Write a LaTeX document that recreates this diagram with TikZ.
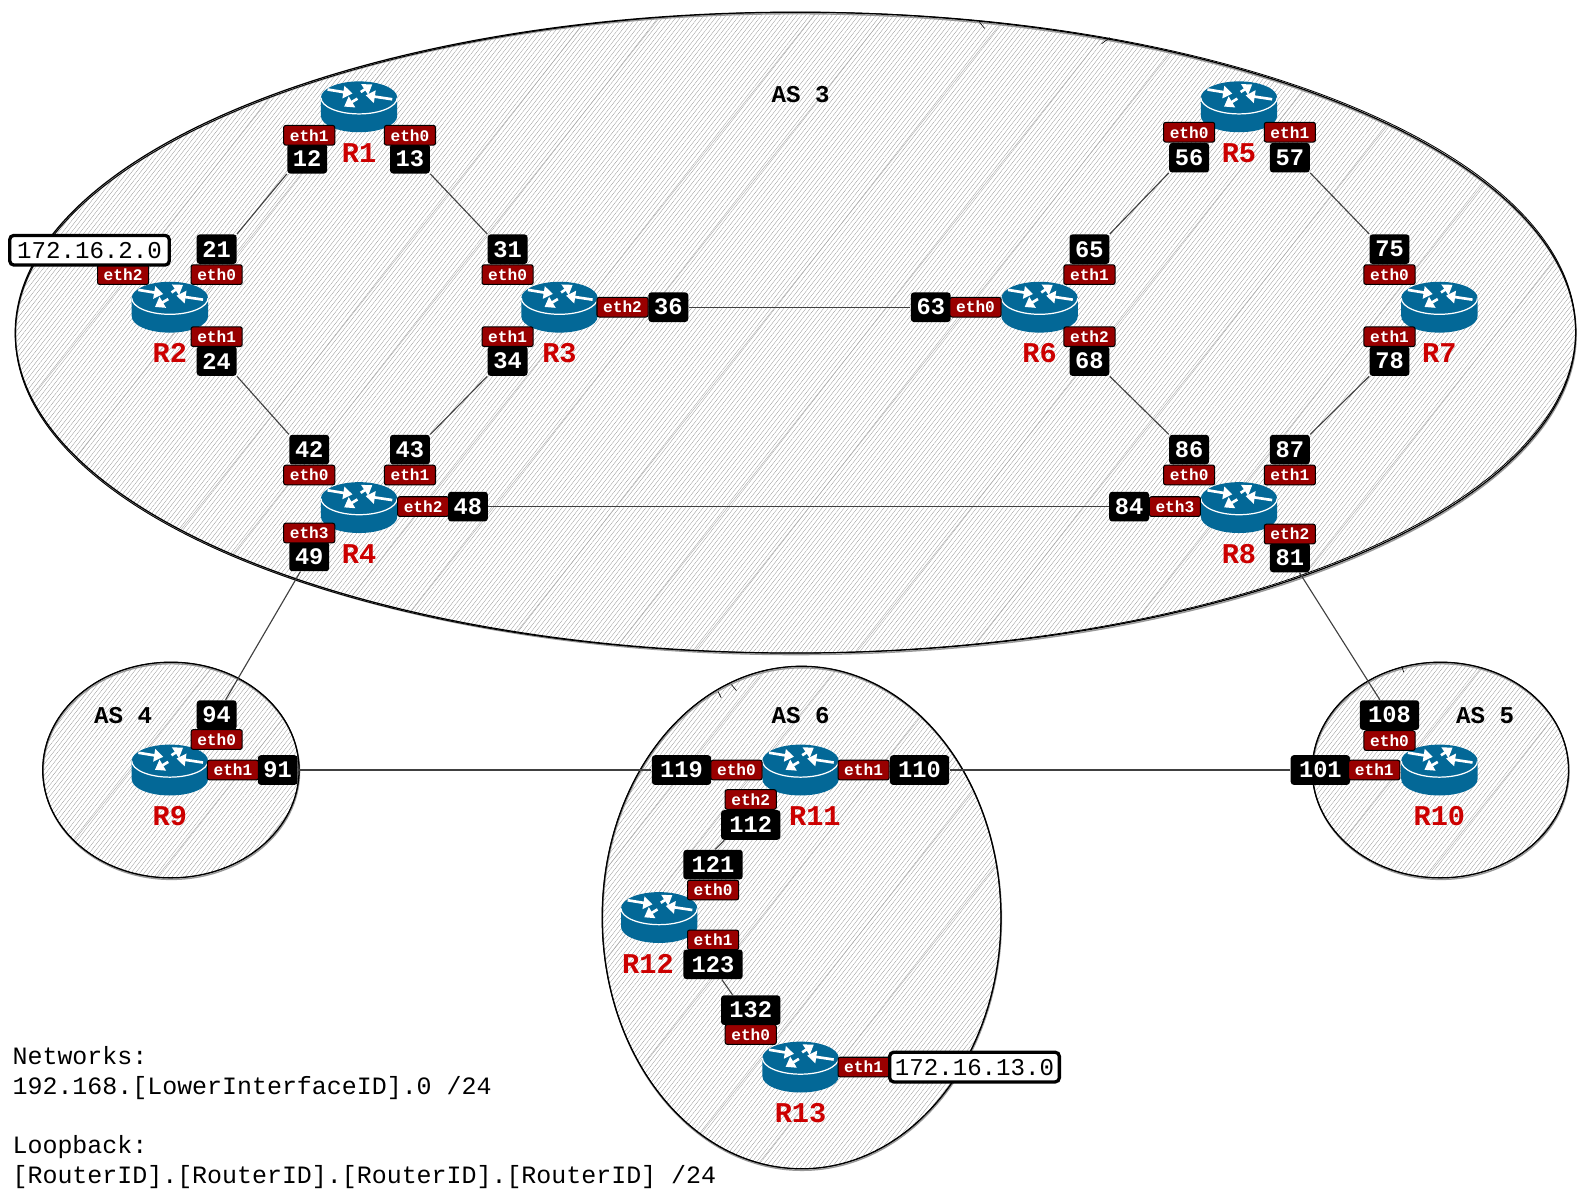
\documentclass[tikz,border=0pt]{standalone}
\usepackage{fontspec}
\setmainfont{Liberation Mono}
\usetikzlibrary{arrows.meta}
\usetikzlibrary{patterns.meta}
\definecolor{routerblue}{HTML}{036897}
\definecolor{ethred}{HTML}{990000}
\definecolor{namered}{HTML}{CC0000}
\newcommand{\routericon}{%
  \begin{scope}[shift={(path picture bounding box.center)}]
    \fill[routerblue] (-37.5,-9) -- (-37.5,9) arc [start angle=180, end angle=0, x radius=37.5, y radius=16] -- (37.5,-9) arc [start angle=0, end angle=-180, x radius=37.5, y radius=16] -- cycle;
    \draw[white, line width=.6pt] (-37.5,-9) arc [start angle=180, end angle=0, x radius=37.5, y radius=16];
    \draw[arrowline] (-31,-17) -- (-6.5,-13);
    \draw[arrowline] (1.6,-14.5) -- (13,-22);
    \draw[arrowline] (32.6,-7.4) -- (6.5,-11.3);
    \draw[arrowline] (-1.6,-8) -- (-14.7,-.2);
  \end{scope}}
\tikzset{
  arrowline/.style={white, line width=1.3pt, -{Triangle[length=4.5pt, width=6pt]}},
  router/.style={inner sep=0pt, minimum width=37.5pt, minimum height=25pt, path picture={\routericon}},
  rname/.style={inner sep=0pt, text=namered, font=\fontsize{14}{14}\selectfont\bfseries},
  eth/.style={draw=black, fill=ethred, text=white, rounded corners=1pt, line width=.5pt, inner sep=0pt, minimum width=25pt, minimum height=9.6pt, font=\fontsize{7.9}{8}\selectfont\bfseries},
  num/.style={fill=black, text=white, rounded corners=1.5pt, inner sep=0pt, minimum width=19.5pt, minimum height=14.5pt, font=\fontsize{11.6}{12}\selectfont\bfseries},
  wide/.style={num, minimum width=29pt},
  ipbox/.style={draw=black, fill=white, rounded corners=2pt, line width=1.6pt, inner sep=0pt, minimum height=14.5pt, font=\fontsize{11.8}{12}\selectfont},
  astext/.style={inner sep=0pt, font=\fontsize{11.8}{12}\selectfont\bfseries},
  hatch/.style={pattern={Lines[angle=52, distance=1.7pt, line width=.11pt]}, pattern color=black!50},
  link/.style={black!75, line width=.55pt},
}
\begin{document}
\begin{tikzpicture}[x=.4975pt, y=-.4975pt]
  \useasboundingbox (0,0) rectangle (1568,1173);

  % autonomous systems
  \foreach \cx/\cy/\rx/\ry in {782/327/767/315, 168/757/126/106, 1416/757/126/106, 788/902/196/247} {
    \fill[hatch] (\cx,\cy) ellipse [x radius=\rx, y radius=\ry];
    \begin{scope}
      \clip (\cx,\cy) ellipse [x radius=\rx, y radius=\ry];
      \foreach \o in {-700,-610,-450,-380,-230,-160,-40,70,150,310,420,560,690}
        \draw[black!35, line width=.18pt] (\cx+\o-700,\cy+880) -- (\cx+\o+700,\cy-880);
    \end{scope}
    \draw[black!40, line width=.7pt] (\cx+.5,\cy+1.5) ellipse [x radius=\rx, y radius=\ry];
    \draw[black, line width=.4pt] (\cx,\cy) ellipse [x radius=\rx, y radius=\ry, rotate=.2];
    \draw[black, line width=.6pt] (\cx,\cy) ellipse [x radius=\rx, y radius=\ry];
  }
  % stray pen strokes on the outlines
  \draw[line width=.3pt] (963,22) -- (968,28);
  \draw[line width=.3pt] (1083,43) -- (1091,37);
  \draw[line width=.3pt] (706,680) -- (709,686);
  \draw[line width=.3pt] (719,673) -- (724,679);
  \draw[line width=.3pt] (1378,655) -- (1380,661);

  \node[astext] (as3) at (787,93) {AS 3};
  \node[astext] (as4) at (121,703) {AS 4};
  \node[astext] (as5) at (1460,703) {AS 5};
  \node[astext] (as6) at (787,703) {AS 6};

  % routers
  \node[router, label={[rname, label distance=5pt]below:R1}] (r1) at (353,105) {};
  \node[router, label={[rname, label distance=5pt]below:R2}] (r2) at (167,302) {};
  \node[router, label={[rname, label distance=5pt]below:R3}] (r3) at (550,302) {};
  \node[router, label={[rname, label distance=5pt]below:R4}] (r4) at (353,499) {};
  \node[router, label={[rname, label distance=5pt]below:R5}] (r5) at (1218,105) {};
  \node[router, label={[rname, label distance=5pt]below:R6}] (r6) at (1022,302) {};
  \node[router, label={[rname, label distance=5pt]below:R7}] (r7) at (1415,302) {};
  \node[router, label={[rname, label distance=5pt]below:R8}] (r8) at (1218,499) {};
  \node[router, label={[rname, label distance=5pt]below:R9}] (r9) at (167,757) {};
  \node[router, label={[rname, label distance=5pt]below:R10}] (r10) at (1415,757) {};
  \node[router, label={[rname, label distance=5pt, xshift=7pt]below:R11}] (r11) at (787,757) {};
  \node[router, label={[rname, label distance=5pt, xshift=-5.5pt]below:R12}] (r12) at (648,902) {};
  \node[router, label={[rname, label distance=5pt]below:R13}] (r13) at (787,1049) {};

  % interface ids
  \foreach \id/\x/\y in {12/302/156, 13/403/156, 21/213/245, 24/213/355, 31/499/245, 34/499/355, 36/657/302,
      42/304/442, 43/403/442, 48/460/498, 49/304/547, 56/1169/155, 57/1268/155, 63/915/302, 65/1071/245, 68/1071/355,
      75/1366/245, 78/1366/355, 81/1268/548, 84/1110/498, 86/1169/442, 87/1268/442, 91/273/757, 94/213/703}
    \node[num] (n\id) at (\x,\y) {\id};
  \foreach \id/\x/\y in {101/1298/757, 108/1366/703, 110/904/757, 112/738/811, 119/670/757, 121/701/850, 123/701/948, 132/738/993}
    \node[wide] (n\id) at (\x,\y) {\id};

  % interface names
  \foreach \nm/\txt/\x/\y in {e12/eth1/304/133, e13/eth0/403/133, e21/eth0/213/270, e22/eth2/121/270, e24/eth1/213/331,
      e31/eth0/499/270, e34/eth1/499/331, e36/eth2/612/302, e42/eth0/304/467, e43/eth1/403/467, e48/eth2/416/498,
      e49/eth3/304/524, e56/eth0/1169/130, e57/eth1/1268/130, e63/eth0/959/302, e65/eth1/1071/270, e68/eth2/1071/331,
      e75/eth0/1366/270, e78/eth1/1366/331, e81/eth2/1268/525, e84/eth3/1155/498, e86/eth0/1169/467, e87/eth1/1268/467,
      e91/eth1/229/757, e94/eth0/213/727, e101/eth1/1351/757, e108/eth0/1366/728, e110/eth1/849/757, e112/eth2/738/786,
      e119/eth0/724/757, e121/eth0/701/875, e123/eth1/701/924, e132/eth0/738/1017, e133/eth1/849/1049}
    \node[eth] (\nm) at (\x,\y) {\txt};

  % stub networks
  \node[ipbox, minimum width=78pt] (net2) at (88,246) {172.16.2.0};
  \node[ipbox, minimum width=83pt] (net13) at (958,1049) {172.16.13.0};

  % links
  \draw[link] (n12.south west) -- (n21.north east);
  \draw[link] (n13.south east) -- (n31.north west);
  \draw[link] (n24.south east) -- (n42.north west);
  \draw[link] (n34.south west) -- (n43.north east);
  \draw[link] (n36) -- (n63);
  \draw[link] (n48) -- (n84);
  \draw[link] (n56.south west) -- (n65.north east);
  \draw[link] (n57.south east) -- (n75.north west);
  \draw[link] (n68.south east) -- (n86.north west);
  \draw[link] (n78.south west) -- (n87.north east);
  \draw[link] (n49) -- (n94);
  \draw[link] (n81) -- (n108);
  \draw[link] (n91) -- (n119);
  \draw[link] (n110) -- (n101);
  \draw[link] (n112.210) -- (n121.82);
  \draw[link] (n123.-60) -- (n132.140);

  % addressing notes
  \node[anchor=north west, align=left, inner sep=0pt, font=\fontsize{12.2}{14.6}\selectfont] (notes) at (12,1028)
    {Networks:\\192.168.[LowerInterfaceID].0 /24\\[14.6pt]Loopback:\\{}[RouterID].[RouterID].[RouterID].[RouterID] /24};
\end{tikzpicture}
\end{document}
